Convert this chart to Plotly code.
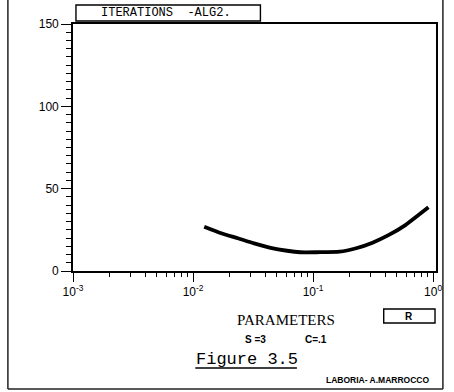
import plotly.graph_objects as go

# Iteration count of ALG2 versus the parameter r
r_values = [0.01239, 0.01718, 0.02357, 0.03230, 0.04424, 0.06068, 0.0780,
            0.1071, 0.1664, 0.2281, 0.3127, 0.4283, 0.5875, 0.7557, 0.9141]
iterations = [26.9, 22.9, 19.9, 16.8, 14.1, 12.3, 11.4,
              11.4, 11.7, 13.8, 17.2, 21.9, 27.9, 34.0, 38.7]

decades = [1e-3, 1e-2, 1e-1, 1e0]
decade_labels = ["10<sup>-3</sup>", "10<sup>-2</sup>", "10<sup>-1</sup>", "10<sup>0</sup>"]
y_ticks = [0, 50, 100, 150]

# pixel layout of the page
W, H = 454, 392
L, R, T, B = 73, 441, 24, 271


def px(x):
    return (x - L) / (R - L)


def py(y):
    return (B - y) / (B - T)


minor_vals = [d * k for d in decades[:-1] for k in range(2, 10)]

fig = go.Figure()
fig.add_trace(go.Scatter(
    x=r_values, y=iterations, mode="lines",
    line=dict(color="black", width=3.8, shape="spline", smoothing=0.6),
    hoverinfo="skip", showlegend=False,
))

axis_font = dict(family="Liberation Sans", size=12, color="black")

fig.update_layout(
    width=W, height=H,
    margin=dict(l=L, r=W - R, t=T, b=H - B),
    paper_bgcolor="white", plot_bgcolor="white",
    xaxis=dict(
        type="log", range=[-3, 0.024],
        tickvals=decades, ticktext=decade_labels,
        ticks="outside", ticklen=9, tickwidth=1.3, tickcolor="black",
        minor=dict(tickvals=minor_vals, ticks="outside", ticklen=4,
                   tickwidth=1.2, tickcolor="black"),
        showline=True, linecolor="black", linewidth=1.6, mirror=True,
        showgrid=False, zeroline=False, tickfont=axis_font,
    ),
    yaxis=dict(
        range=[0, 150], tickvals=y_ticks,
        ticks="outside", ticklen=10, tickwidth=1.3, tickcolor="black",
        minor=dict(dtick=5, ticks="outside", ticklen=5, tickwidth=1.2,
                   tickcolor="black"),
        showline=True, linecolor="black", linewidth=1.6, mirror=True,
        showgrid=False, zeroline=False, tickfont=axis_font,
    ),
)

shapes = []
# outer frame of the sheet
frame_col = "#222"
shapes.append(dict(type="line", xref="paper", yref="paper",
                   x0=px(7), x1=px(7), y0=py(0), y1=py(389),
                   line=dict(color=frame_col, width=1.5)))
shapes.append(dict(type="line", xref="paper", yref="paper",
                   x0=px(448), x1=px(448), y0=py(0), y1=py(389),
                   line=dict(color=frame_col, width=1.5)))
shapes.append(dict(type="line", xref="paper", yref="paper",
                   x0=px(7), x1=px(448), y0=py(389), y1=py(389),
                   line=dict(color=frame_col, width=1.5)))
# title box
shapes.append(dict(type="rect", xref="paper", yref="paper",
                   x0=px(76), x1=px(263), y0=py(21), y1=py(5),
                   line=dict(color="black", width=1.4)))
# parameter box
shapes.append(dict(type="rect", xref="paper", yref="paper",
                   x0=px(388), x1=px(440), y0=py(323), y1=py(309),
                   line=dict(color="black", width=1.4)))
# caption underline
shapes.append(dict(type="line", xref="paper", yref="paper",
                   x0=px(197), x1=px(300), y0=py(368), y1=py(368),
                   line=dict(color="black", width=1.4)))
fig.update_layout(shapes=shapes)


def note(text, x, y, family, size, bold=False):
    fig.add_annotation(
        text=f"<b>{text}</b>" if bold else text,
        xref="paper", yref="paper", x=px(x), y=py(y),
        xanchor="center", yanchor="middle", showarrow=False,
        font=dict(family=family, size=size, color="black"),
    )


note("ITERATIONS  -ALG2.", 167, 13, "Liberation Mono", 12)
note("PARAMETERS", 289, 320, "Liberation Serif", 15)
note("R", 414, 316, "Liberation Sans", 10, bold=True)
note("S =3", 258, 339, "Liberation Sans", 10, bold=True)
note("C=.1", 319, 339, "Liberation Sans", 10, bold=True)
note("Figure 3.5", 249, 359, "Liberation Mono", 17)
note("LABORIA- A.MARROCCO", 382, 380, "Liberation Sans", 8.5, bold=True)

fig.write_html("out.html")
